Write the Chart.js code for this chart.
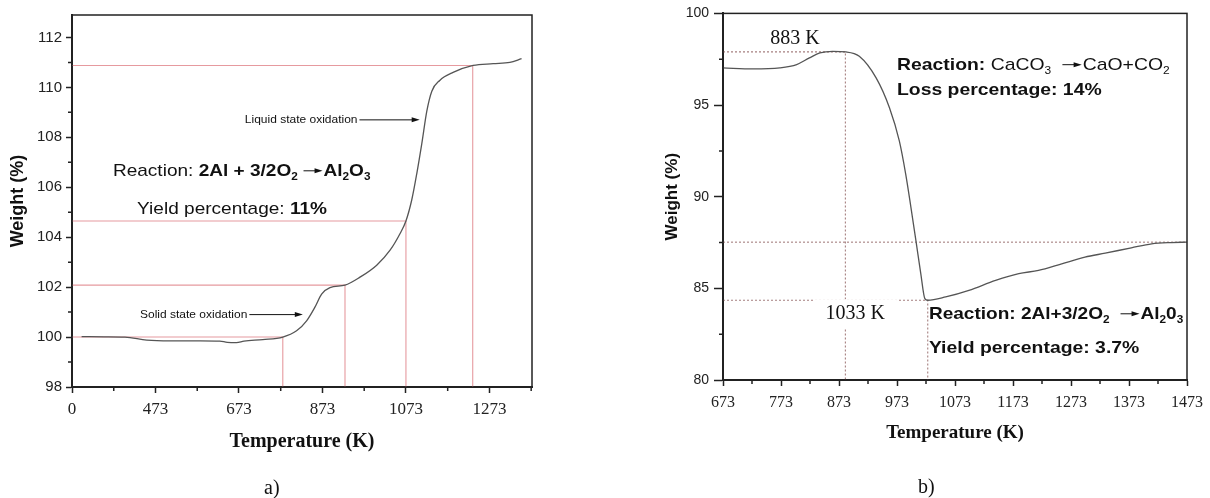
<!DOCTYPE html>
<html>
<head>
<meta charset="utf-8">
<script src="https://cdn.jsdelivr.net/npm/chart.js@4.4.1/dist/chart.umd.min.js"></script>
<style>
  body { margin: 0; background: #fff; }
  #wrap { position: relative; width: 1210px; height: 498px; }
  canvas { position: absolute; top: 0; }
  #cA { left: 0; }
  #cB { left: 605px; }
  .lbl { position: absolute; font: 20px "Liberation Serif", "Times New Roman", serif; color: #111; line-height: 24px; }
</style>
</head>
<body>
<div id="wrap">
  <canvas id="cA" width="605" height="498"></canvas>
  <canvas id="cB" width="605" height="498"></canvas>
  <div class="lbl" style="left:264px;top:475px">a)</div>
  <div class="lbl" style="left:918px;top:474px">b)</div>
</div>
<script>
// ---- panel a) : Al powder, weight gain ----
const tempA = [296, 350, 400, 452, 508, 580, 627, 645, 667, 685, 730, 778, 811, 835, 855, 871, 891, 927,
               963, 1003, 1035, 1059, 1073, 1087, 1099, 1111, 1123, 1135, 1154, 1186, 1234, 1282, 1322, 1350];
const weightA = [100.02, 100.01, 100.0, 99.88, 99.85, 99.85, 99.84, 99.79, 99.78, 99.84, 99.9, 100.0, 100.25, 100.65, 101.2, 101.72, 101.98, 102.08,
                 102.4, 102.88, 103.48, 104.15, 104.65, 105.5, 106.55, 107.75, 109.05, 109.85, 110.28, 110.6, 110.88, 110.95, 111.0, 111.15];
const xTicksA = [273, 473, 673, 873, 1073, 1273];
const xLabelsA = ['0', '473', '673', '873', '1073', '1273'];
const xMinorA = [373, 573, 773, 973, 1173, 1373];
const yTicksA = [98, 100, 102, 104, 106, 108, 110, 112];
const yMinorA = [99, 101, 103, 105, 107, 109, 111];
// guide lines: across to the curve, then down to the axis
const guideXA = [778, 927, 1073, 1233];
const guideYA = [100, 102.08, 104.65, 110.88];

// ---- panel b) : CaCO3 + Al ----
const tempB = [673, 725, 771, 800, 822, 840, 862, 885, 908, 937, 960, 977, 988, 997, 1006, 1014, 1021, 1026,
               1057, 1097, 1143, 1183, 1217, 1257, 1297, 1332, 1377, 1412, 1446, 1473];
const weightB = [97.03, 96.97, 97.03, 97.21, 97.57, 97.84, 97.93, 97.9, 97.66, 96.48, 94.85, 93.04, 91.23, 89.42, 87.52, 85.8, 84.44, 84.35,
                 84.53, 84.89, 85.43, 85.8, 85.98, 86.34, 86.7, 86.92, 87.21, 87.43, 87.5, 87.52];
const xTicksB = [673, 773, 873, 973, 1073, 1173, 1273, 1373, 1473];
const xMinorB = [723, 823, 923, 1023, 1123, 1223, 1323, 1423];
const yTicksB = [80, 85, 90, 95, 100];
const yMinorB = [82.5, 87.5, 92.5, 97.5];
const peakB = [884, 97.9];
const dipB = [1026, 84.35];
const finalB = 87.52;

const sans = '"Liberation Sans", Arial, sans-serif';
const serif = '"Liberation Serif", "Times New Roman", serif';

// text with bold runs, subscripts and the little reaction arrow
function drawRich(ctx, x, y, parts, size) {
    let cx = x;
    const base = y + size * 0.36;
    parts.forEach(p => {
        if (p.arrow) {
            const len = size * 1.3;
            const ay = base - size * 0.33;
            ctx.lineWidth = 1;
            ctx.beginPath();
            ctx.moveTo(cx + size * 0.3, ay);
            ctx.lineTo(cx + len - size * 0.3, ay);
            ctx.stroke();
            ctx.beginPath();
            ctx.moveTo(cx + len, ay);
            ctx.lineTo(cx + len - size * 0.42, ay - size * 0.15);
            ctx.lineTo(cx + len - size * 0.42, ay + size * 0.15);
            ctx.closePath();
            ctx.fill();
            cx += len + size * 0.05;
            return;
        }
        const fs = p.sub ? size * 0.62 : size;
        ctx.font = (p.b ? 'bold ' : '') + fs + 'px ' + sans;
        ctx.fillText(p.t, cx, p.sub ? base + size * 0.2 : base);
        cx += ctx.measureText(p.t).width;
    });
    return cx;
}

const notesPlugin = {
    id: 'notes',
    afterDatasetsDraw(chart, args, opts) {
        const { ctx, scales: { x, y } } = chart;
        ctx.save();
        ctx.fillStyle = '#111';
        ctx.strokeStyle = '#111';
        (opts.items || []).forEach(n => {
            const px = x.getPixelForValue(n.at[0]);
            const py = y.getPixelForValue(n.at[1]);
            if (n.text) {
                ctx.font = n.font;
                const w = ctx.measureText(n.text).width;
                if (n.clear) {
                    ctx.fillStyle = '#fff';
                    ctx.fillRect(px - w / 2 - 12, py - 14, w + 24, 29);
                    ctx.fillStyle = '#111';
                }
                ctx.textAlign = 'center';
                ctx.textBaseline = 'middle';
                ctx.fillText(n.text, px, py);
                ctx.textAlign = 'left';
                ctx.textBaseline = 'alphabetic';
                return;
            }
            // the source figure's lettering is a little wide, so stretch it sideways
            const sx = n.sx || 1;
            ctx.save();
            ctx.translate(px, py);
            ctx.scale(sx, 1);
            const end = px + drawRich(ctx, 0, 0, n.parts, n.size) * sx;
            ctx.restore();
            if (n.arrowTo) {
                const tip = x.getPixelForValue(n.arrowTo);
                const ay = py + 0.5;
                ctx.lineWidth = 1;
                ctx.beginPath();
                ctx.moveTo(end + 2, ay);
                ctx.lineTo(tip - 6, ay);
                ctx.stroke();
                ctx.beginPath();
                ctx.moveTo(tip, ay);
                ctx.lineTo(tip - 8, ay - 2.5);
                ctx.lineTo(tip - 8, ay + 2.5);
                ctx.closePath();
                ctx.fill();
            }
        });
        ctx.restore();
    }
};

const frameTicks = {
    id: 'frameTicks',
    afterDraw(chart, args, opts) {
        const { ctx, chartArea: a, scales: { x, y } } = chart;
        ctx.save();
        ctx.strokeStyle = '#222';
        ctx.lineWidth = 1.5;
        ctx.beginPath();
        opts.x.forEach(v => {
            const p = x.getPixelForValue(v);
            ctx.moveTo(p, a.bottom);
            ctx.lineTo(p, a.bottom + 4);
        });
        opts.y.forEach(v => {
            const p = y.getPixelForValue(v);
            ctx.moveTo(a.left, p);
            ctx.lineTo(a.left - 4, p);
        });
        ctx.stroke();
        ctx.strokeRect(a.left, a.top, a.right - a.left, a.bottom - a.top);
        ctx.restore();
    }
};

const gridOpts = { drawOnChartArea: false, tickLength: 6, tickWidth: 1.5, tickColor: '#222' };
const borderOpts = { color: '#222', width: 2 };

function curve(xs, ys) {
    return {
        data: xs.map((t, i) => ({ x: t, y: ys[i] })),
        borderColor: '#555', borderWidth: 1.3, pointRadius: 0,
        cubicInterpolationMode: 'monotone'
    };
}

function guide(points, color, dash) {
    return {
        data: points.map(p => ({ x: p[0], y: p[1] })),
        borderColor: color, borderWidth: 1.1, borderDash: dash, pointRadius: 0, tension: 0
    };
}

// ---- chart a ----
const guidesA = guideXA.map((gx, i) =>
    guide([[273, guideYA[i]], [gx, guideYA[i]], [gx, 98]], '#e69a9f', []));

new Chart(document.getElementById('cA'), {
    type: 'line',
    data: { datasets: [curve(tempA, weightA), ...guidesA] },
    options: {
        responsive: false,
        animation: false,
        events: [],
        layout: { padding: { top: 15, right: 73, left: 0, bottom: 0 } },
        scales: {
            x: {
                type: 'linear', min: 273, max: 1375,
                afterBuildTicks: s => { s.ticks = xTicksA.map(v => ({ value: v })); },
                afterFit: s => { s.height = 111; },
                ticks: { callback: (v, i) => xLabelsA[i], font: { family: serif, size: 17 }, color: '#222', padding: 6, maxRotation: 0, autoSkip: false },
                grid: gridOpts,
                border: borderOpts,
                title: { display: true, text: 'Temperature (K)', font: { family: serif, size: 20, weight: 'bold' }, color: '#111', padding: { top: 0, bottom: 44 } }
            },
            y: {
                type: 'linear', min: 98, max: 112.9,
                afterBuildTicks: s => { s.ticks = yTicksA.map(v => ({ value: v })); },
                afterFit: s => { s.width = 72; },
                ticks: { font: { family: sans, size: 15 }, color: '#222', padding: 4 },
                grid: gridOpts,
                border: borderOpts,
                title: { display: true, text: 'Weight (%)', font: { family: sans, size: 18, weight: 'bold' }, color: '#111', padding: { top: 7, bottom: 0 } }
            }
        },
        plugins: {
            legend: { display: false },
            tooltip: { enabled: false },
            frameTicks: { x: xMinorA, y: yMinorA },
            notes: {
                items: [
                    { at: [687, 108.72], size: 11, sx: 1.09, parts: [{ t: 'Liquid state oxidation' }], arrowTo: 1106 },
                    { at: [436, 100.92], size: 11, sx: 1.09, parts: [{ t: 'Solid state oxidation' }], arrowTo: 826 },
                    { at: [371, 106.68], size: 17, sx: 1.12, parts: [
                        { t: 'Reaction: ' }, { t: '2Al + 3/2O', b: 1 }, { t: '2', b: 1, sub: 1 }, { arrow: 1 },
                        { t: 'Al', b: 1 }, { t: '2', b: 1, sub: 1 }, { t: 'O', b: 1 }, { t: '3', b: 1, sub: 1 }] },
                    { at: [429, 105.16], size: 17, sx: 1.12, parts: [{ t: 'Yield percentage: ' }, { t: '11%', b: 1 }] }
                ]
            }
        }
    },
    plugins: [notesPlugin, frameTicks]
});

// ---- chart b ----
const dotted = '#a57f7f';
const guidesB = [
    guide([[673, peakB[1]], peakB, [peakB[0], 80]], dotted, [2, 2]),
    guide([[673, finalB], [1473, finalB]], dotted, [2, 2]),
    guide([[673, dipB[1]], dipB, [dipB[0], 80]], dotted, [2, 2])
];

new Chart(document.getElementById('cB'), {
    type: 'line',
    data: { datasets: [curve(tempB, weightB), ...guidesB] },
    options: {
        responsive: false,
        animation: false,
        events: [],
        layout: { padding: { top: 12, right: 21, left: 0, bottom: 0 } },
        scales: {
            x: {
                type: 'linear', min: 673, max: 1473,
                afterBuildTicks: s => { s.ticks = xTicksB.map(v => ({ value: v })); },
                afterFit: s => { s.height = 118; },
                ticks: { callback: v => String(v), font: { family: serif, size: 16 }, color: '#222', padding: 7, maxRotation: 0, autoSkip: false },
                grid: gridOpts,
                border: borderOpts,
                title: { display: true, text: 'Temperature (K)', font: { family: serif, size: 19, weight: 'bold' }, color: '#111', padding: { top: 0, bottom: 54 } }
            },
            y: {
                type: 'linear', min: 80, max: 100,
                afterBuildTicks: s => { s.ticks = yTicksB.map(v => ({ value: v })); },
                afterFit: s => { s.width = 118; },
                ticks: { font: { family: sans, size: 14 }, color: '#222', padding: 5 },
                grid: { ...gridOpts, tickLength: 9 },
                border: borderOpts,
                title: { display: true, text: 'Weight (%)', font: { family: sans, size: 17, weight: 'bold' }, color: '#111', padding: { top: 57, bottom: 0 } }
            }
        },
        plugins: {
            legend: { display: false },
            tooltip: { enabled: false },
            frameTicks: { x: xMinorB, y: yMinorB },
            notes: {
                items: [
                    { at: [797, 98.64], text: '883 K', font: '20px ' + serif },
                    { at: [901, 83.64], text: '1033 K', font: '20px ' + serif, clear: true },
                    { at: [973, 97.23], size: 17, sx: 1.14, parts: [
                        { t: 'Reaction: ', b: 1 }, { t: 'CaCO' }, { t: '3', sub: 1 }, { t: ' ' }, { arrow: 1 },
                        { t: 'CaO+CO' }, { t: '2', sub: 1 }] },
                    { at: [973, 95.87], size: 17, sx: 1.14, parts: [{ t: 'Loss percentage: 14%', b: 1 }] },
                    { at: [1028, 83.64], size: 17, sx: 1.12, parts: [
                        { t: 'Reaction: 2Al+3/2O', b: 1 }, { t: '2', b: 1, sub: 1 }, { t: ' ' }, { arrow: 1 },
                        { t: 'Al', b: 1 }, { t: '2', b: 1, sub: 1 }, { t: '0', b: 1 }, { t: '3', b: 1, sub: 1 }] },
                    { at: [1028, 81.8], size: 17, sx: 1.14, parts: [{ t: 'Yield percentage: 3.7%', b: 1 }] }
                ]
            }
        }
    },
    plugins: [notesPlugin, frameTicks]
});
</script>
</body>
</html>
